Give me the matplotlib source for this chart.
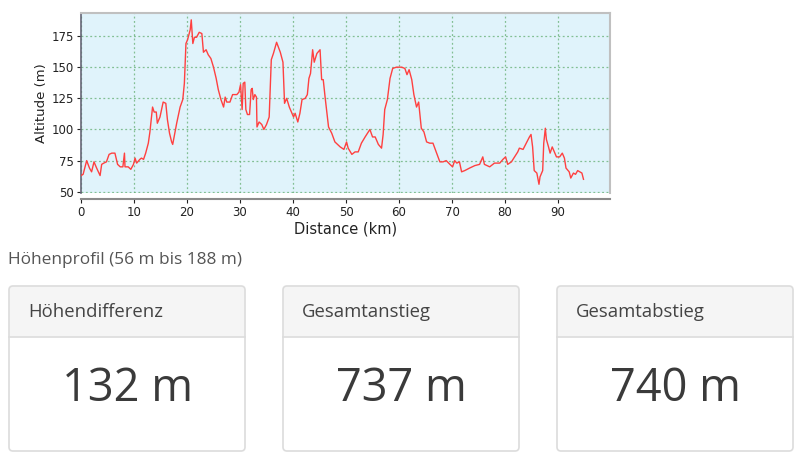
import matplotlib
matplotlib.use("Agg")
import matplotlib.pyplot as plt
from matplotlib.patches import FancyBboxPatch, Rectangle

# ── data ─────────────────────────────────────────────────────────────────────
dist_km = [0.0, 0.4, 1.07, 1.6, 2.0, 2.45, 2.95, 3.6, 3.9, 4.3, 4.8, 5.3, 5.8, 6.4,
           6.9, 7.4, 7.9, 8.2, 8.3, 8.9, 9.4, 9.9, 10.2, 10.5, 11.1, 11.4, 11.8, 12.2,
           12.7, 13.0, 13.5, 13.8, 14.2, 14.4, 14.9, 15.5, 16.0, 16.3, 16.7, 17.1,
           17.3, 17.7, 18.05, 18.7, 19.2, 19.5, 19.8, 20.1, 20.6, 20.8, 21.1, 21.4,
           21.8, 22.3, 22.8, 23.1, 23.6, 24.0, 24.5, 25.0, 25.5, 25.9, 26.4, 26.9,
           27.2, 27.5, 28.1, 28.6, 29.4, 29.8, 30.1, 30.4, 30.6, 30.9, 31.1, 31.4,
           31.8, 32.1, 32.3, 32.5, 32.8, 33.1, 33.2, 33.6, 34.1, 34.5, 35.0, 35.5,
           35.9, 36.3, 36.9, 37.6, 38.1, 38.4, 38.8, 39.3, 39.7, 40.1, 40.4, 40.9,
           41.3, 41.7, 42.3, 42.7, 43.0, 43.3, 43.7, 44.0, 44.5, 45.1, 45.4, 45.7,
           46.05, 46.7, 47.3, 47.9, 48.9, 49.6, 50.1, 50.4, 51.1, 51.7, 52.3, 52.9,
           53.6, 54.5, 55.0, 55.5, 56.1, 56.7, 57.0, 57.3, 57.8, 58.3, 58.8, 59.5,
           60.5, 61.1, 61.5, 61.9, 62.4, 62.8, 63.3, 63.7, 64.2, 64.7, 65.2, 65.8,
           66.4, 67.1, 67.7, 68.3, 68.9, 69.6, 70.1, 70.5, 70.9, 71.4, 71.8, 72.4,
           73.3, 74.3, 75.2, 75.8, 76.1, 77.1, 78.0, 79.0, 79.6, 80.1, 80.5, 81.2,
           81.8, 82.4, 82.7, 83.4, 84.0, 84.6, 84.9, 85.2, 85.5, 86.0, 86.4, 86.6,
           87.1, 87.3, 87.6, 87.8, 88.2, 88.5, 88.9, 89.3, 89.7, 90.3, 90.8, 91.2,
           91.5, 92.1, 92.4, 92.9, 93.3, 93.7, 94.1, 94.5, 94.8]
altitude_m = [63, 64, 75, 69, 66, 74, 69, 63, 72, 73, 74, 80, 81, 81,
              72, 70, 70, 81, 70, 70, 68, 72, 77, 73, 76, 77, 76, 81,
              89, 98, 118, 114, 114, 105, 110, 122, 121, 108, 97, 90,
              88, 97, 105, 118, 124, 137, 169, 172, 180, 188, 169, 174,
              174, 178, 177, 162, 164, 160, 157, 150, 141, 132, 124, 118,
              126, 122, 122, 128, 128, 130, 136, 116, 137, 138, 116, 112,
              112, 132, 133, 124, 128, 126, 102, 106, 104, 100, 104, 110,
              156, 161, 170, 162, 154, 121, 125, 118, 114, 110, 113, 106,
              113, 124, 125, 128, 141, 145, 164, 154, 161, 164, 140, 140,
              126, 102, 97, 90, 86, 84, 90, 85, 80, 82, 82, 89,
              94, 100, 94, 94, 88, 85, 96, 116, 124, 141, 149, 150,
              150, 149, 144, 148, 140, 128, 118, 122, 101, 98, 90, 89,
              89, 81, 74, 74, 75, 72, 70, 75, 73, 74, 66, 67,
              69, 71, 72, 78, 72, 70, 73, 73, 76, 78, 72, 74,
              78, 82, 85, 84, 89, 94, 96, 86, 67, 65, 56, 62,
              67, 89, 101, 92, 86, 81, 86, 82, 78, 78, 81, 77,
              69, 66, 61, 65, 64, 67, 66, 65, 60]

x_ticks = [0, 10, 20, 30, 40, 50, 60, 70, 80, 90]
y_ticks = [50, 75, 100, 125, 150, 175]

profile_title = "Höhenprofil (56 m bis 188 m)"
card_titles = ["Höhendifferenz", "Gesamtanstieg", "Gesamtabstieg"]
card_values = ["132 m", "737 m", "740 m"]

# ── figure ───────────────────────────────────────────────────────────────────
W, H = 800, 459
fig = plt.figure(figsize=(W / 100, H / 100), dpi=100)
fig.patch.set_facecolor("white")

# chart area in pixels: left 81, right 610, top 13, bottom 193
L, R, T, B = 81, 610, 13, 193
ax = fig.add_axes([L / W, 1 - B / H, (R - L) / W, (B - T) / H])
ax.set_facecolor("#e0f3fb")
ax.plot(dist_km, altitude_m, color="#ff4040", linewidth=1.0, zorder=3)

ax.set_xlim(0, 99.8)
ax.set_ylim(49, 193.5)
ax.set_xticks(x_ticks)
ax.set_yticks(y_ticks)
ax.grid(True, color="#6bb27a", linestyle=(0, (1.5, 2)), linewidth=0.9, alpha=0.8)
ax.set_axisbelow(True)

for side in ("top", "right"):
    ax.spines[side].set_color("#c0c0c0")
    ax.spines[side].set_linewidth(1.5)
ax.spines["left"].set_color("#666677")
ax.spines["left"].set_linewidth(1.2)
ax.spines["bottom"].set_color("#8a8a8a")
ax.spines["bottom"].set_linewidth(1.5)
ax.spines["bottom"].set_position(("outward", 4.5))

ax.tick_params(axis="both", labelsize=8.5, colors="#222222", length=3, width=0.8)
ax.tick_params(axis="x", pad=2)
ax.tick_params(axis="y", pad=2)
ax.set_xlabel("Distance (km)", fontsize=10.5, color="#222222", labelpad=2)
ax.set_ylabel("Altitude (m)", fontsize=9.5, color="#222222", labelpad=3)

# ── summary cards (overlay in pixel coordinates) ─────────────────────────────
ov = fig.add_axes([0, 0, 1, 1], zorder=-1)
ov.set_xlim(0, W)
ov.set_ylim(H, 0)
ov.axis("off")

ov.text(8, 260, profile_title, fontsize=12.4, color="#555555",
        family="Open Sans", va="center", ha="left")

card_x = [9, 283, 557]
card_w = 236
card_top, card_bot, head_bot = 286, 451, 337
rad = 4

for cx, title, val in zip(card_x, card_titles, card_values):
    # header band
    ov.add_patch(FancyBboxPatch((cx, card_top), card_w, card_bot - card_top,
                                boxstyle=f"round,pad=0,rounding_size={rad}",
                                facecolor="#f5f5f5", edgecolor="none"))
    # white body
    ov.add_patch(FancyBboxPatch((cx, head_bot), card_w, card_bot - head_bot,
                                boxstyle=f"round,pad=0,rounding_size={rad}",
                                facecolor="white", edgecolor="none"))
    ov.add_patch(Rectangle((cx, head_bot), card_w, 8, facecolor="white", edgecolor="none"))
    # border + divider
    ov.add_patch(FancyBboxPatch((cx, card_top), card_w, card_bot - card_top,
                                boxstyle=f"round,pad=0,rounding_size={rad}",
                                facecolor="none", edgecolor="#dcdcdc", linewidth=1.2))
    ov.plot([cx, cx + card_w], [head_bot, head_bot], color="#dcdcdc", linewidth=1.2)

    ov.text(cx + 19, 312, title, fontsize=13.3, color="#444444",
            family="Open Sans", va="center", ha="left")
    ov.text(cx + card_w / 2, 389, val, fontsize=32.5, color="#3a3a3a",
            family="Open Sans", va="center", ha="center")

fig.savefig("out.png", dpi=100)
